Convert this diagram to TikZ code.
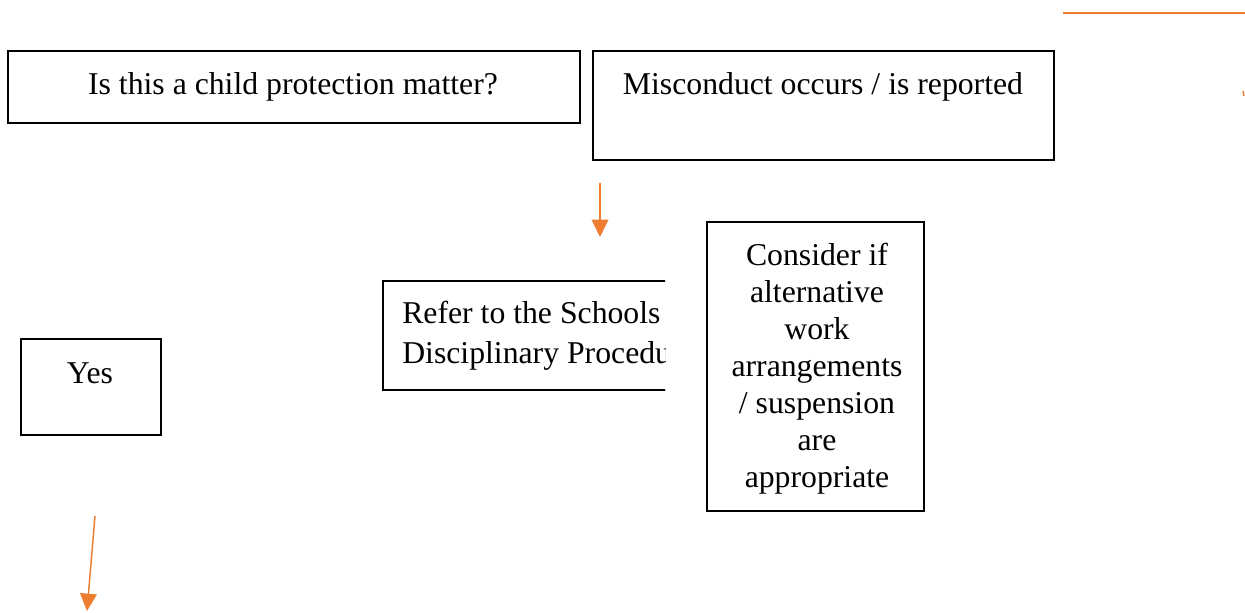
\documentclass[tikz,border=0pt]{standalone}
\usepackage{fontspec}
\setmainfont{Liberation Serif}
\usepackage{xcolor}
\usetikzlibrary{arrows.meta}
\definecolor{flowOrange}{HTML}{ED7D31}

\begin{document}
\begin{tikzpicture}[x=0.75pt,y=-0.75pt,
  box/.style={draw=black,line width=1.5pt,inner sep=0pt,anchor=north west},
  txt/.style={font=\fontsize{23.8}{27.75}\selectfont,inner sep=0pt},
  flow/.style={color=flowOrange,line width=1.1pt,-{Triangle[width=12.5pt,length=13pt]}}]
  \useasboundingbox (0,0) rectangle (1245,613);

  \draw (7,50) node[box,minimum width=429pt,minimum height=54pt] (childBox) {};
  \draw (293,87) node[txt] (child) {Is this a child protection matter?};

  \draw (592,50) node[box,minimum width=345.5pt,minimum height=81.5pt] (miscBox) {};
  \draw (823,87) node[txt] (misc) {Misconduct occurs / is reported};

  \begin{scope}
    \clip (370,270) rectangle (665,400);
    \draw (382,280) node[box,minimum width=240pt,minimum height=81.5pt] (referBox) {};
    \draw (402,336) node[txt,anchor=west,align=left,
      font=\fontsize{23.8}{30}\selectfont] (refer)
      {Refer to the Schools\\Disciplinary Procedure};
  \end{scope}

  \draw (706,221) node[box,minimum width=163pt,minimum height=216.5pt] (considerBox) {};
  \draw (817,369) node[txt,align=center] (consider)
    {Consider if\\alternative\\work\\arrangements\\/ suspension\\are\\appropriate};

  \draw (20,338) node[box,minimum width=105pt,minimum height=72pt] (yesBox) {};
  \draw (90,373) node[txt] (yes) {Yes};

  % loose orange strokes
  \coordinate (lineA) at (1063,13);
  \coordinate (lineB) at (1245,13);
  \coordinate (tickA) at (1243,91);
  \coordinate (tickB) at (1244,96);
  \coordinate (arrOneA) at (600,183);
  \coordinate (arrOneB) at (600,237);
  \coordinate (arrTwoA) at (95,516);
  \coordinate (arrTwoB) at (87,611);

  \path[color=flowOrange,line width=1.1pt] (lineA) edge (lineB);
  \path[color=flowOrange,line width=1.1pt] (tickA) edge (tickB);
  \path[flow] (arrOneA) edge (arrOneB);
  \path[flow] (arrTwoA) edge (arrTwoB);

\end{tikzpicture}
\end{document}
